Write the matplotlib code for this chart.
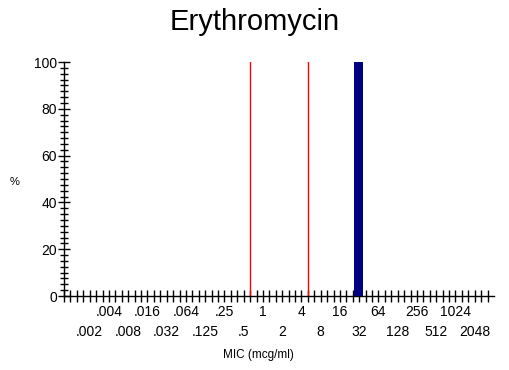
import numpy as np
import matplotlib.pyplot as plt

plt.rcParams['font.family'] = ['Liberation Sans', 'DejaVu Sans']

# MIC dilution series (log2 steps) and the labels printed under the axis
mic_values = [2.0 ** k for k in range(-9, 12)]
mic_labels = ['.002', '.004', '.008', '.016', '.032', '.064', '.125', '.25', '.5',
              '1', '2', '4', '8', '16', '32', '64', '128', '256', '512', '1024', '2048']

# isolate distribution (% of isolates at each MIC)
dist_mic = [32]
dist_pct = [100]

# breakpoint lines
breakpoint_lines = [0.63, 5.04]

fig = plt.figure(figsize=(5.09, 3.70), dpi=100)
ax = fig.add_axes([64 / 509, 1 - 296 / 370, 430 / 509, 234 / 370])

for bp in breakpoint_lines:
    ax.plot([bp, bp], [0, 100], color='#ff0000', linewidth=1.0)
    # breakpoint markers

for m, p in zip(dist_mic, dist_pct):
    ax.bar(m, p, width=m * (2 ** 0.23 - 2 ** -0.23), color='#000080', linewidth=0, zorder=3)
    # distribution bar

ax.set_xscale('log', base=2)
ax.set_xlim(2.0 ** -9 / 2 ** (4 / 3), 2.0 ** 12)
ax.set_ylim(0, 100)

# tick marks every third of a doubling
third_ticks = [2.0 ** (k / 3) for k in range(-31, 36)]
ax.set_xticks(third_ticks)
ax.set_xticklabels([])
ax.xaxis.set_minor_locator(plt.NullLocator())
ax.tick_params(axis='x', direction='inout', length=8, width=1, color='black')

for i, (v, lab) in enumerate(zip(mic_values, mic_labels)):
    y = -0.07 if i % 2 == 1 else -0.155
    ax.text(v, y, lab, transform=ax.get_xaxis_transform(), ha='center', va='center', fontsize=10)
    # alternate rows of MIC labels

ax.set_yticks(np.arange(0, 101, 20))
ax.set_yticks(np.arange(0, 101, 2.5), minor=True)
ax.tick_params(axis='y', which='major', direction='inout', length=8, width=1, labelsize=10, pad=1)
ax.tick_params(axis='y', which='minor', direction='inout', length=6, width=1)

for s in ['top', 'right']:
    ax.spines[s].set_visible(False)
ax.spines['left'].set_linewidth(1)
ax.spines['bottom'].set_linewidth(1)

fig.text(255 / 509, 1 - 22 / 370, 'Erythromycin', ha='center', va='center', fontsize=21)
fig.text(258 / 509, 1 - 355 / 370, 'MIC (mcg/ml)', ha='center', va='center', fontsize=8.5)
fig.text(15 / 509, 1 - 182 / 370, '%', ha='center', va='center', fontsize=8)

fig.savefig('out.png', dpi=100)
